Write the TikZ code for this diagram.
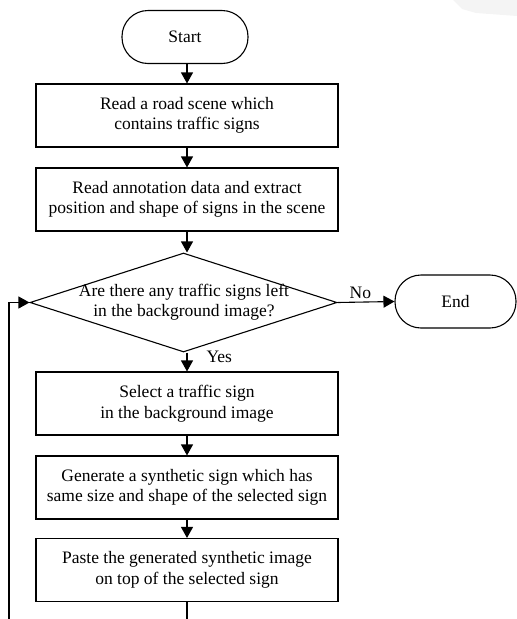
\documentclass[tikz,border=0pt]{standalone}
\usepackage{fontspec}
\setmainfont{Liberation Serif}
\usetikzlibrary{shapes.geometric,arrows.meta}
\begin{document}
\begin{tikzpicture}[x=1pt,y=-1pt,
  every node/.style={font=\fontsize{17.5}{20.5}\selectfont, align=center},
  procbox/.style={draw, line width=1.1pt, rectangle, minimum width=302pt, minimum height=63pt, inner sep=0pt},
  termbox/.style={draw, line width=1.1pt, rectangle, rounded corners=26pt, minimum height=53pt, inner sep=0pt},
  decbox/.style={draw, line width=1.1pt, diamond, minimum width=307pt, minimum height=99pt, inner sep=0pt},
  flow/.style={line width=1.1pt, -{Triangle[length=11pt,width=12pt]}},
  plain/.style={line width=1.1pt}
]
\clip (0,0) rectangle (517,619);
\useasboundingbox (0,0) rectangle (517,619);
\fill[gray!9] (453,0) -- (462,9) -- (476,13) -- (517,16) -- (517,0) -- cycle;

\node[termbox, minimum width=126pt] (start) at (185,37) {Start};
\node[procbox] (b1) at (187,115.5) {Read a road scene which\\contains traffic signs};
\node[procbox] (b2) at (187,199.5) {Read annotation data and extract\\position and shape of signs in the scene};
\node[decbox] (dec) at (183.5,302.5) {};
\node (dectext) at (184,302) {Are there any traffic signs left\\in the background image?};
\node[termbox, minimum width=121pt] (end) at (455.5,301.5) {End};
\node[procbox] (b3) at (187,403.5) {Select a traffic sign\\in the background image};
\node[procbox] (b4) at (187,487.5) {Generate a synthetic sign which has\\same size and shape of the selected sign};
\node[procbox] (b5) at (187,570) {Paste the generated synthetic image\\on top of the selected sign};
\coordinate (loopL) at (9,640);

\draw[flow] (start.south -| b1.north) -- (b1.north);
\draw[flow] (b1) -- (b2);
\draw[flow] (b2.south) -- (b2.south |- dec.north);
\draw[flow] (dec.south -| b3.north) -- (b3.north);
\draw[flow] (b3) -- (b4);
\draw[flow] (b4) -- (b5);
\draw[flow] (dec.east) -- node[above, pos=0.4] (nolab) {No} (end.west);
\node[anchor=west] (yeslab) at (203,357) {Yes};
\draw[flow] (b5.south) -- (b5.south |- loopL) -| (loopL) |- (dec.west);
\end{tikzpicture}
\end{document}
